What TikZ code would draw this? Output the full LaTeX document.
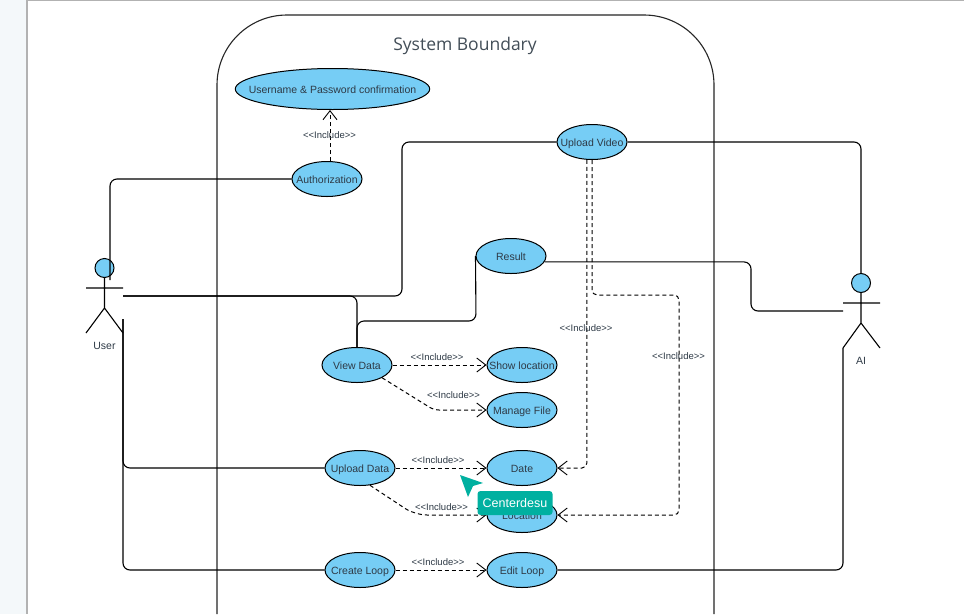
\documentclass[tikz,border=0pt]{standalone}
\usepackage{fontspec}
\setmainfont{Liberation Sans}
\newfontfamily\titlefont{Open Sans}
\usetikzlibrary{arrows.meta,shapes.geometric}
\definecolor{ucfill}{HTML}{76CDF5}
\definecolor{uctext}{HTML}{2E3A46}
\definecolor{tagteal}{HTML}{00B0A0}
\definecolor{pageside}{HTML}{F4F8FA}
\tikzset{
  usecase/.style={ellipse,draw=black,line width=1pt,fill=ucfill,text=uctext,inner xsep=-15pt,inner ysep=0pt,
    minimum width=70pt,minimum height=35pt,text height=9.5pt,text depth=0pt,font=\fontsize{10.5}{12}\selectfont},
  assoc/.style={draw=black,line width=1.1pt,rounded corners=7pt},
  incl/.style={draw=black,line width=1pt,dashed,dash pattern=on 4pt off 3pt,rounded corners=5pt,
    -{Straight Barb[length=9pt,width=14pt,line width=0.9pt]}},
  incllabel/.style={font=\fontsize{9.5}{11}\selectfont,text=uctext,inner sep=0pt},
  actorhead/.style={circle,draw=black,line width=1pt,fill=ucfill,inner sep=0pt,minimum size=19pt},
  actorline/.style={draw=black,line width=1.1pt},
  actorlabel/.style={font=\fontsize{10.5}{12}\selectfont,text=uctext,inner sep=0pt},
}
\begin{document}
\begin{tikzpicture}[x=1pt,y=-1pt]
\useasboundingbox (0,0) rectangle (964,614);
% page
\fill[white] (0,0) rectangle (964,614);
\fill[pageside] (0,0) rectangle (26,614);
\fill[black!30] (26,0) rectangle (28,614);
\fill[black!30] (26,0) rectangle (964,1);
% system boundary
\draw[line width=1.1pt,draw=black!85,rounded corners=70pt] (217,614) -- (217,15) -- (714,15) -- (714,614);
\node[font=\titlefont\fontsize{17.5}{22}\selectfont,text=uctext!90,inner sep=0pt] (boundary) at (465,45.5) {System Boundary};
% use cases
\node[usecase,minimum width=193pt,minimum height=41pt] (confirm) at (332.5,89) {Username \& Password confirmation};
\node[usecase] (auth) at (327,179) {Authorization};
\node[usecase] (video) at (592,142) {Upload Video};
\node[usecase] (result) at (511,256) {Result};
\node[usecase] (view) at (357,365) {View Data};
\node[usecase] (show) at (522,365) {Show location};
\node[usecase] (manage) at (522,410) {Manage File};
\node[usecase] (upload) at (360,468) {Upload Data};
\node[usecase] (date) at (522,468) {Date};
\node[usecase] (location) at (522,515) {Location};
\node[usecase] (create) at (360,570) {Create Loop};
\node[usecase] (edit) at (522,570) {Edit Loop};
% actors
\node[actorhead] (userhead) at (104.5,268) {};
\node[actorlabel] (user) at (104.5,345.5) {User};
\draw[actorline] (userhead.south) -- (104.5,308) -- (86,333) (104.5,308) -- (123,333) (86,288) -- (123,288);
\node[actorhead] (aihead) at (861,283) {};
\node[actorlabel] (ai) at (861,360.5) {AI};
\draw[actorline] (aihead.south) -- (861,323) -- (843,348) (861,323) -- (880,348) (843,303) -- (880,303);
% free ends
\coordinate (userneck) at (110,280);
\coordinate (userarm) at (123,296);
\coordinate (userhip) at (123,319);
\coordinate (aiarm) at (843,311);
\coordinate (aifoot) at (843,348);
\coordinate (videoturn) at (402,296);
\coordinate (resultdrop) at (476,321);
\coordinate (resultbend) at (751,262);
\coordinate (viewbend) at (434,410);
\coordinate (uploadbend) at (415,515);
\coordinate (datalane) at (679,295);
% associations
\draw[assoc] (auth.west) -| (userneck);
\draw[assoc] (userarm) -| (view.north);
\draw[assoc] (userarm) -- (videoturn) |- (video.west);
\draw[assoc] (result.west) -- (resultdrop) -| (view.north);
\draw[assoc] (video.east) -| (aihead.north);
\draw[assoc] (result.-10) -- (result.-10 -| resultbend) -- (aiarm -| resultbend) -- (aiarm);
\draw[assoc] (userhip) |- (upload.west);
\draw[assoc] (userhip) |- (create.west);
\draw[assoc] (edit.east) -| (aifoot);
% includes
\draw[incl] (auth.north -| 330,0) -- (confirm.south -| 330,0);
\draw[incl] (view.east) -- (show.west);
\draw[incl] (view.-27) -- (viewbend) -- (manage.west);
\draw[incl] (upload.east) -- (date.west);
\draw[incl,rounded corners=12pt] (upload.-60) -- (uploadbend) -- (location.west);
\draw[incl] (create.east) -- (edit.west);
\draw[incl] (video.254) |- (date.east);
\draw[incl] (video.south) |- (datalane) |- (location.east);
% include labels
\node[incllabel] (inclauth) at (329.5,135) {<{}<Include>{}>};
\node[incllabel] (inclshow) at (437,357) {<{}<Include>{}>};
\node[incllabel] (inclmanage) at (453.5,395) {<{}<Include>{}>};
\node[incllabel] (incldate) at (438,460) {<{}<Include>{}>};
\node[incllabel] (incllocation) at (441.5,507) {<{}<Include>{}>};
\node[incllabel] (incledit) at (438,562) {<{}<Include>{}>};
\node[incllabel] (inclvideo) at (586,328) {<{}<Include>{}>};
\node[incllabel] (incllane) at (678.5,356) {<{}<Include>{}>};
% cursor tag
\fill[tagteal] (460,475) -- (483,483) -- (473,486) -- (468,497) -- cycle;
\node[fill=tagteal,rounded corners=3pt,text=white,inner sep=0pt,minimum width=75pt,minimum height=24pt,
  font=\fontsize{12.5}{15}\selectfont] (tag) at (515,503) {Centerdesu};
\end{tikzpicture}
\end{document}
